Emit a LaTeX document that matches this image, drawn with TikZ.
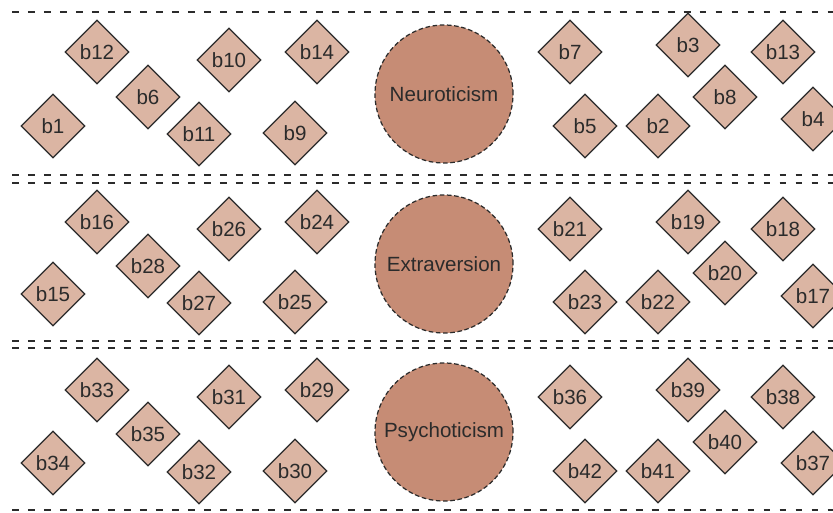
\documentclass[tikz,border=0pt]{standalone}
\usepackage{fontspec}
\setmainfont{Liberation Sans}
\usepackage{tikz}
\usetikzlibrary{shapes.geometric}
\definecolor{itemfill}{HTML}{DBB5A3}
\definecolor{traitfill}{HTML}{C68C75}
\definecolor{inkgray}{HTML}{2B2B2B}

\begin{document}
\begin{tikzpicture}[
  item/.style={diamond, draw=inkgray, line width=0.7pt, fill=itemfill, minimum size=1.28cm, inner sep=0pt, text=inkgray, font=\fontsize{11.7}{14}\selectfont},
  trait/.style={circle, draw=inkgray, line width=0.7pt, dash pattern=on 2.6pt off 1.5pt, fill=traitfill, minimum size=2.76cm, inner sep=0pt, text=inkgray, font=\fontsize{11.7}{14}\selectfont},
  band/.style={inkgray, line width=1.6pt, dash pattern=on 3.9pt off 5.2pt}]
\useasboundingbox (0cm,0cm) rectangle (16.66cm,-10.24cm);
\draw[band] (0.24cm,-0.24cm) -- (16.66cm,-0.24cm);
\draw[band] (0.24cm,-3.50cm) -- (16.66cm,-3.50cm);
\draw[band] (0.24cm,-3.66cm) -- (16.66cm,-3.66cm);
\draw[band] (0.24cm,-6.82cm) -- (16.66cm,-6.82cm);
\draw[band] (0.24cm,-6.96cm) -- (16.66cm,-6.96cm);
\draw[band] (0.24cm,-10.20cm) -- (16.66cm,-10.20cm);
\node[trait] (neuro) at (8.88cm,-1.88cm) {Neuroticism};
\node[item] (b12) at (1.94cm,-1.04cm) {b12};
\node[item] (b10) at (4.58cm,-1.20cm) {b10};
\node[item] (b14) at (6.34cm,-1.04cm) {b14};
\node[item] (b6)  at (2.96cm,-1.94cm) {b6};
\node[item] (b1)  at (1.06cm,-2.52cm) {b1};
\node[item] (b11) at (3.98cm,-2.68cm) {b11};
\node[item] (b9)  at (5.90cm,-2.66cm) {b9};
\node[item] (b7)  at (11.40cm,-1.04cm) {b7};
\node[item] (b3)  at (13.76cm,-0.90cm) {b3};
\node[item] (b13) at (15.66cm,-1.04cm) {b13};
\node[item] (b8)  at (14.50cm,-1.94cm) {b8};
\node[item] (b5)  at (11.70cm,-2.52cm) {b5};
\node[item] (b2)  at (13.16cm,-2.52cm) {b2};
\node[item] (b4)  at (16.26cm,-2.38cm) {b4};
\node[trait] (extra) at (8.88cm,-5.28cm) {Extraversion};
\node[item] (b16) at (1.94cm,-4.44cm) {b16};
\node[item] (b26) at (4.58cm,-4.58cm) {b26};
\node[item] (b24) at (6.34cm,-4.44cm) {b24};
\node[item] (b28) at (2.96cm,-5.32cm) {b28};
\node[item] (b15) at (1.06cm,-5.88cm) {b15};
\node[item] (b27) at (3.98cm,-6.06cm) {b27};
\node[item] (b25) at (5.90cm,-6.04cm) {b25};
\node[item] (b21) at (11.40cm,-4.58cm) {b21};
\node[item] (b19) at (13.76cm,-4.44cm) {b19};
\node[item] (b18) at (15.66cm,-4.58cm) {b18};
\node[item] (b20) at (14.50cm,-5.46cm) {b20};
\node[item] (b23) at (11.70cm,-6.04cm) {b23};
\node[item] (b22) at (13.16cm,-6.04cm) {b22};
\node[item] (b17) at (16.26cm,-5.92cm) {b17};
\node[trait] (psycho) at (8.88cm,-8.64cm) {Psychoticism};
\node[item] (b33) at (1.94cm,-7.80cm) {b33};
\node[item] (b31) at (4.58cm,-7.94cm) {b31};
\node[item] (b29) at (6.34cm,-7.80cm) {b29};
\node[item] (b35) at (2.96cm,-8.68cm) {b35};
\node[item] (b34) at (1.06cm,-9.26cm) {b34};
\node[item] (b32) at (3.98cm,-9.44cm) {b32};
\node[item] (b30) at (5.90cm,-9.42cm) {b30};
\node[item] (b36) at (11.40cm,-7.94cm) {b36};
\node[item] (b39) at (13.76cm,-7.80cm) {b39};
\node[item] (b38) at (15.66cm,-7.94cm) {b38};
\node[item] (b40) at (14.50cm,-8.84cm) {b40};
\node[item] (b42) at (11.70cm,-9.42cm) {b42};
\node[item] (b41) at (13.16cm,-9.42cm) {b41};
\node[item] (b37) at (16.26cm,-9.26cm) {b37};
\end{tikzpicture}
\end{document}
